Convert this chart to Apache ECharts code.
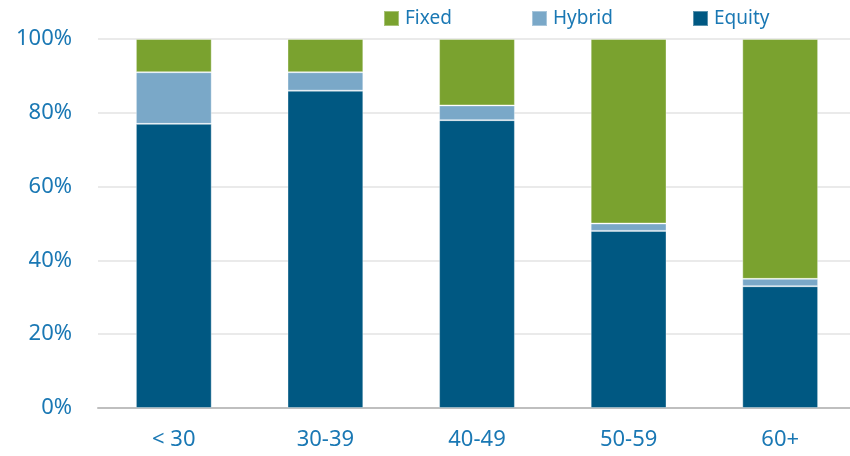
<!DOCTYPE html>
<html><head><meta charset="utf-8">
<script src="https://cdn.jsdelivr.net/npm/echarts@6/dist/echarts.min.js"></script>
<style>html,body{margin:0;padding:0;background:#fff;overflow:hidden}#c{width:856px;height:456px}</style>
</head><body><div id="c"></div>
<script>
const categories = ['< 30', '30-39', '40-49', '50-59', '60+'];
const equity = [77, 86, 78, 48, 33];
const hybrid = [14, 5, 4, 2, 2];
const fixed = [9, 9, 18, 50, 65];
const yTicks = [0, 20, 40, 60, 80, 100];

const textColor = '#1a78b4';
const font = 'Noto Sans';
const colors = { Fixed: '#7aa22f', Hybrid: '#7aa8c8', Equity: '#005882' };
const chart = echarts.init(document.getElementById('c'));
function legendAt(name, left) {
  return {
    data: [name], left: left, top: 4, itemWidth: 15, itemHeight: 15, itemGap: 0,
    icon: 'rect', selectedMode: false,
    textStyle: { color: textColor, fontSize: 19, fontFamily: font, padding: [0, 0, 0, 1] }
  };
}
const barStyle = { borderColor: 'rgba(255,255,255,0.35)', borderWidth: 1 };
chart.setOption({
  animation: false,
  legend: [legendAt('Fixed', 378), legendAt('Hybrid', 526), legendAt('Equity', 687)],
  grid: { left: 98, right: 0, top: 39, bottom: 48, containLabel: false },
  xAxis: {
    type: 'category', data: categories,
    axisLine: { lineStyle: { color: '#bfbfbf', width: 2 } },
    axisTick: { show: false },
    axisLabel: { color: textColor, fontSize: 22, fontFamily: font, margin: 21 }
  },
  yAxis: {
    type: 'value', min: yTicks[0], max: yTicks[yTicks.length - 1], interval: 20,
    axisLine: { show: false }, axisTick: { show: false },
    axisLabel: { color: textColor, fontSize: 22, fontFamily: font, margin: 26, formatter: '{value}%' },
    splitLine: { lineStyle: { color: '#e3e3e3', width: 1.5 } }
  },
  series: [
    { name: 'Equity', type: 'bar', stack: 'a', data: equity, barCategoryGap: '50%', itemStyle: Object.assign({ color: colors.Equity }, barStyle) },
    { name: 'Hybrid', type: 'bar', stack: 'a', data: hybrid, itemStyle: Object.assign({ color: colors.Hybrid }, barStyle) },
    { name: 'Fixed', type: 'bar', stack: 'a', data: fixed, itemStyle: Object.assign({ color: colors.Fixed }, barStyle) }
  ]
});
</script></body></html>
